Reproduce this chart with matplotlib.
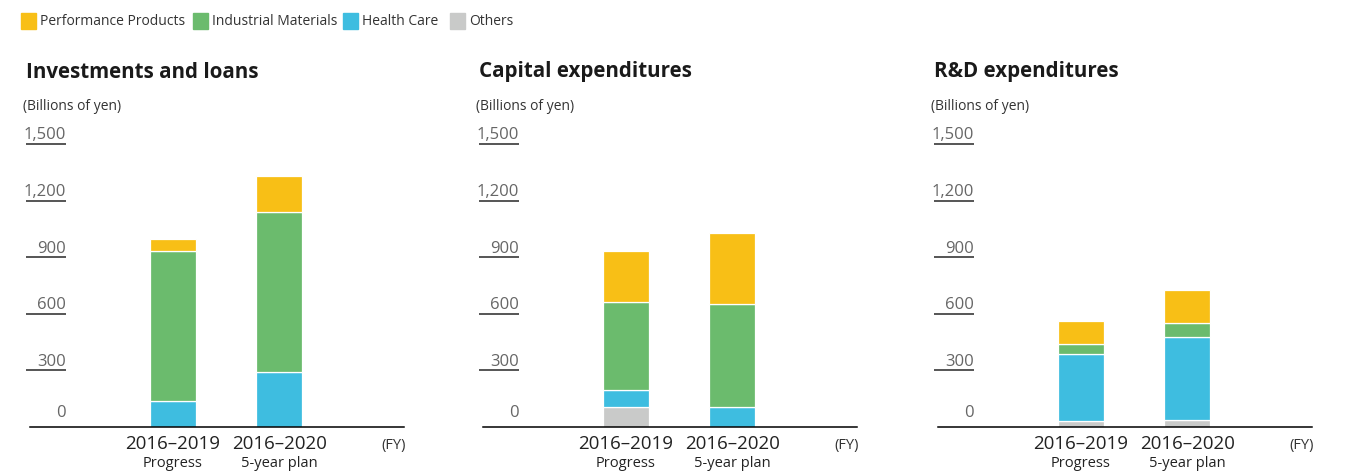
import matplotlib
matplotlib.use('Agg')
import matplotlib.pyplot as plt
from matplotlib.patches import Rectangle

plt.rcParams['font.family'] = ['Open Sans', 'DejaVu Sans']

segments = ['Performance Products', 'Industrial Materials', 'Health Care', 'Others']
colors = ['#F8BF16', '#6BBB6D', '#3EBDE0', '#C9CAC9']
periods = ['2016–2019', '2016–2020']
period_notes = ['Progress', '5-year plan']
titles = ['Investments and loans', 'Capital expenditures', 'R&D expenditures']
yticks = [0, 300, 600, 900, 1200, 1500]

# billions of yen, one value per period
inv_others = [0, 0]
inv_health = [140, 293]
inv_industrial = [795, 845]
inv_performance = [60, 194]

cap_others = [108, 0]
cap_health = [88, 106]
cap_industrial = [466, 547]
cap_performance = [270, 374]

rd_others = [32, 37]
rd_health = [353, 438]
rd_industrial = [55, 78]
rd_performance = [123, 175]

charts = [
    (inv_performance, inv_industrial, inv_health, inv_others),
    (cap_performance, cap_industrial, cap_health, cap_others),
    (rd_performance, rd_industrial, rd_health, rd_others),
]

W, H = 1345, 473
fig = plt.figure(figsize=(W / 100, H / 100), dpi=100)

lefts = [30, 483, 938]   # px, start of the baseline
ax_w = 374
base_px, top_px = 427, 144

for k, (left, data) in enumerate(zip(lefts, charts)):
    ax = fig.add_axes([left / W, 1 - base_px / H, ax_w / W, (base_px - top_px) / H])
    x = [0, 1]
    bottom = [0, 0]
    # stack bottom-up: Others, Health Care, Industrial, Performance
    for vals, c in zip(reversed(data), reversed(colors)):
        ax.bar(x, vals, bottom=bottom, width=0.433, color=c,
               edgecolor='white', linewidth=0.9)
        bottom = [b + v for b, v in zip(bottom, vals)]
    ax.set_xlim(-1.345, 2.176)
    ax.set_ylim(0, 1500)
    for s in ['top', 'right', 'left']:
        ax.spines[s].set_visible(False)
    ax.spines['bottom'].set_linewidth(1.1)
    ax.spines['bottom'].set_zorder(3)
    ax.set_xticks([])
    ax.set_yticks([])

    # underlined value labels
    tr = ax.get_yaxis_transform()
    for v in yticks:
        if v:
            ax.plot([-0.011, 0.0965], [v, v], transform=tr, color='#555555',
                    lw=1.4, clip_on=False, solid_capstyle='butt')
        ax.annotate(f'{v:,}', xy=(0.0965, v), xycoords=tr,
                    xytext=(0, 0.5 if v else 4), textcoords='offset points',
                    ha='right', va='bottom', fontsize=12, color='#666666')

    for xi, p, n in zip(x, periods, period_notes):
        ax.annotate(p, xy=(xi, 0), xycoords=('data', 'axes fraction'),
                    xytext=(0, -12.5), textcoords='offset points',
                    ha='center', va='center', fontsize=13.5, color='#222222')
        ax.annotate(n, xy=(xi, 0), xycoords=('data', 'axes fraction'),
                    xytext=(0, -26.5), textcoords='offset points',
                    ha='center', va='center', fontsize=10.5, color='#222222')
    ax.annotate('(FY)', xy=(1.0, 0), xycoords='axes fraction',
                xytext=(1.5, -13), textcoords='offset points',
                ha='right', va='center', fontsize=10.5, color='#333333')

    fig.text((left - 4) / W, 1 - 72 / H, titles[k], fontsize=14.8,
             fontweight='bold', va='center', ha='left', color='#1a1a1a')
    fig.text((left - 7) / W, 1 - 106 / H, '(Billions of yen)', fontsize=10,
             va='center', ha='left', color='#333333')

# legend row
leg_x = [21, 193, 343, 450]
for lx, name, c in zip(leg_x, segments, colors):
    fig.patches.append(Rectangle((lx / W, 1 - 29 / H), 15 / W, 16 / H,
                                 transform=fig.transFigure, color=c))
    fig.text((lx + 19) / W, 1 - 21 / H, name, fontsize=10, va='center',
             ha='left', color='#333333')

fig.savefig('out.png', dpi=100)
